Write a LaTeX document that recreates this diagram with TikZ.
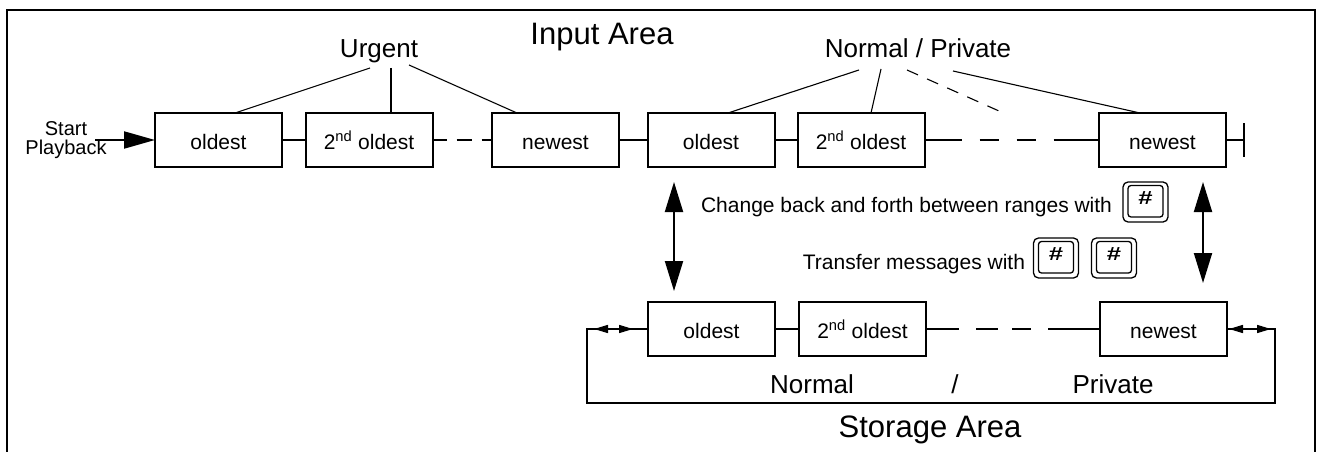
\documentclass[tikz,border=0pt]{standalone}
\usepackage{fontspec}
\setmainfont{Liberation Sans}
\usetikzlibrary{arrows.meta,decorations.markings}

\tikzset{
  hashkey/.pic={
    \draw[line width=1.3pt, rounded corners=5pt] (-22.5,-20) rectangle (22.5,20);
    \draw[line width=1.3pt, rounded corners=3pt] (-17.5,-16.5) rectangle (17.5,15);
    \node[font=\fontsize{19}{19}\bfseries\selectfont, xscale=1.35, transform shape] (-glyph) at (0,-4) {\#};
  }
}

\begin{document}
\begin{tikzpicture}[x=1pt, y=-1pt,
  every node/.style={inner sep=0pt, outer sep=0pt},
  msgbox/.style={draw, line width=2pt, minimum width=127pt, minimum height=54pt,
    font=\fontsize{21}{24}\selectfont, text height=18pt, text depth=0pt},
  link/.style={line width=1.5pt},
  leader/.style={line width=1.1pt},
  title/.style={font=\fontsize{31}{36}\selectfont, anchor=base},
  catlabel/.style={font=\fontsize{26}{30}\selectfont, anchor=base},
  note/.style={font=\fontsize{21}{24}\selectfont, anchor=base east},
  bigtip/.style={line width=2pt, -{Triangle[length=31pt,width=17pt]}},
  swaparrow/.style={line width=2pt,
    {Triangle[length=30pt,width=18pt]}-{Triangle[length=30pt,width=18pt]}},
  smalltip/.tip={Triangle[length=14pt,width=8pt]}
]
\useasboundingbox (0,0) rectangle (1319,452);

% outer frame (open at the bottom)
\draw[line width=1.5pt] (7,452) -- (7,10) -- (1315,10) -- (1315,452);

% ---------- input area ----------
\node[title] (inarea) at (602,45) {Input Area};
\node[catlabel] (urgent) at (379,58) {Urgent};
\node[catlabel] (normpriv) at (918,57) {Normal / Private};

\node[msgbox] (o1) at (218.5,140) {oldest};
\node[msgbox] (o2) at (369,140) {2\textsuperscript{nd} oldest};
\node[msgbox] (o3) at (555.5,140) {newest};
\node[msgbox] (o4) at (711,140) {oldest};
\node[msgbox] (o5) at (861,140) {2\textsuperscript{nd} oldest};
\node[msgbox] (o6) at (1162.5,140) {newest};

\node[anchor=base] (start) at (66,135)
  {\fontsize{20}{18}\selectfont\begin{tabular}[t]{@{}c@{}}Start\\Playback\end{tabular}};
\coordinate (sp) at (95,140);
\draw[bigtip] (sp) -- (o1.west);

\draw[link] (o1.east) -- (o2.west);
\draw[link, dash pattern=on 14pt off 10pt on 15pt off 10pt on 30pt] (o2.east) -- (o3.west);
\draw[link] (o3.east) -- (o4.west);
\draw[link] (o4.east) -- (o5.west);
\draw[link, dash pattern=on 37pt off 18pt on 19pt off 18pt on 19pt off 18pt on 60pt] (o5.east) -- (o6.west);

% end of the input chain
\coordinate (tend) at (1244,140);
\draw[link] (o6.east) -- (tend) ++(0,-17) -- ++(0,34);

% leaders from the category labels
\coordinate (u1) at (370,68);
\coordinate (u2) at (391,68);
\coordinate (u3) at (409,65);
\draw[leader] (u1) -- ([xshift=16.5pt]o1.north);
\draw[leader] (u2) -- ([xshift=22pt]o2.north);
\draw[leader] (u3) -- ([xshift=-38.5pt]o3.north);

\coordinate (n1) at (859,70);
\coordinate (n2) at (881,69);
\coordinate (n3) at (907,70);
\coordinate (n3e) at (999,111);
\coordinate (n4) at (953,71);
\draw[leader] (n1) -- ([xshift=17pt]o4.north);
\draw[leader] (n2) -- ([xshift=10pt]o5.north);
\draw[leader, dash pattern=on 12pt off 10pt] (n3) -- (n3e);
\draw[leader] (n4) -- ([xshift=-22.5pt]o6.north);

% ---------- key hints ----------
\node[note] (hint1) at (1112,212) {Change back and forth between ranges with};
\pic (k1) at (1145.5,202) {hashkey};
\node[note] (hint2) at (1025,269) {Transfer messages with};
\pic (k2) at (1056,258) {hashkey};
\pic (k3) at (1114,258) {hashkey};

% ---------- storage area ----------
\node[msgbox] (b1) at (711.5,329) {oldest};
\node[msgbox] (b2) at (862.5,329) {2\textsuperscript{nd} oldest};
\node[msgbox] (b3) at (1163.5,329) {newest};

\draw[link] (b1.east) -- (b2.west);
\draw[link, dash pattern=on 33pt off 17pt on 22pt off 14pt on 19pt off 17pt on 60pt] (b2.east) -- (b3.west);

\draw[swaparrow, shorten <=15pt, shorten >=11pt] ([xshift=-37pt]o4.south) -- ([xshift=-37.5pt]b1.north);
\draw[swaparrow, shorten <=15pt, shorten >=19pt] ([xshift=40.5pt]o6.south) -- ([xshift=39.5pt]b3.north);

% wrap-around loop of the storage ring
\coordinate (loopL) at (587,403);
\coordinate (loopR) at (1275,403);
\draw[link, postaction={decorate}, decoration={markings,
    mark=at position 54pt with {\arrow{smalltip}},
    mark=at position 15pt with {\arrowreversed{smalltip}},
    mark=at position -2pt with {\arrow{smalltip}},
    mark=at position -44pt with {\arrowreversed{smalltip}}}]
  (b1.west) -| (loopL) -- (loopR) |- (b3.east);

\node[catlabel] (snormal) at (812,393) {Normal};
\node[catlabel] (sslash) at (955,393) {/};
\node[catlabel] (sprivate) at (1113,393) {Private};
\node[title] (starea) at (930,437) {Storage Area};
\end{tikzpicture}
\end{document}
